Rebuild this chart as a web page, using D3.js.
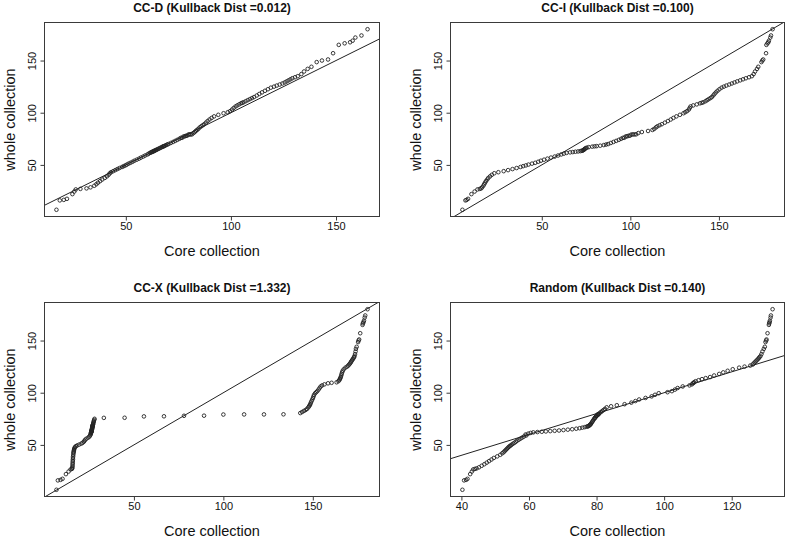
<!DOCTYPE html>
<html>
<head>
<meta charset="utf-8">
<script src="https://cdn.jsdelivr.net/npm/d3@7"></script>
<style>
html, body { margin: 0; padding: 0; background: #fff; }
svg { display: block; }
text { font-family: "Liberation Sans", Arial, sans-serif; fill: #111; }
</style>
</head>
<body>
<svg id="chart" width="787" height="541"></svg>
<script>
// Whole collection quantiles (shared y values of every panel)
const wholeQ = [
  7, 16, 16.5, 17.5, 22, 24.5, 26.5, 27, 27.5, 28.5,
  30, 31.5, 33, 34.5, 36, 37.5, 39, 40.5, 42, 43, 44, 45, 46, 47, 48, 48.8, 49.5, 50.3, 51.2, 52, 53, 54, 55, 56, 57, 58, 59,
  60, 60.8, 61.5, 62, 62.3, 62.6, 62.9, 63.2, 63.5, 63.8, 64.2, 64.6, 65, 65.5, 66, 66.5, 67, 67.5, 67.8, 68, 68.4, 69, 69.5, 70, 71, 72, 73, 74, 75,
  75.9, 76, 77.3, 77.4, 77.9, 78, 79.1, 79.2, 79.2, 79.3,
  80.5, 81.5, 82.5, 83.5, 84.5, 86, 87, 88, 89, 90.5, 92, 93.5, 95, 96.5, 98, 99.5, 100.5, 101.5, 103, 104.5, 106, 107, 108, 109, 109.5, 110,
  111, 112, 113, 114, 115, 116.5, 118, 119.5, 121, 122.5, 124, 125, 126, 127, 128, 129, 130, 131, 132, 133, 134, 135,
  137, 139.5, 142, 144, 148.5, 150, 151, 157, 165, 166.5, 167.5, 169, 172, 174, 180
];

// Core collection quantiles, one array per method
const coreD = [
  17, 18.6, 20.5, 22, 24.6, 25.5, 26.2, 28.4, 31.3, 33.2,
  35, 36, 36.8, 37.8, 38.8, 40, 41, 41.8, 42.4, 43, 44, 45, 46, 47, 48.2, 49, 49.8, 50.5, 51.3, 52.2, 53.2, 54.1, 55.2, 56.3, 57.2, 58.3, 59.2,
  60.3, 60.9, 61.5, 62, 62.3, 62.7, 63, 63.3, 63.6, 63.9, 64.3, 64.7, 65.1, 65.6, 66.1, 66.6, 67.1, 67.6, 67.9, 68.2, 68.6, 69.2, 69.7, 70.3, 71.4, 72.5, 73.5, 74.5, 75.5,
  76.2, 76.8, 77.5, 78.1, 78.6, 79.2, 79.8, 80.3, 80.9, 81.5,
  82.2, 82.8, 83.3, 83.9, 84.5, 85.2, 85.9, 86.6, 87.3, 88.1, 88.9, 89.8, 90.8, 92, 94, 96.5, 98.5, 99.6, 100.5, 101.3, 102.2, 103, 103.9, 104.8, 105.4, 106,
  107, 108, 109, 110, 111, 112.3, 113.5, 114.8, 116.2, 117.6, 119, 120.5, 121.8, 123.2, 124.5, 125.6, 126.5, 127.4, 128.3, 129.2, 130.5, 131.8,
  133.5, 134.8, 136.5, 138.3, 140.8, 143.3, 146.2, 148.6, 151.3, 154.1, 156.7, 157.9, 159.2, 162.1, 165
];
const coreI = [
  5.2, 6.9, 7.6, 8.4, 10.3, 12.1, 13.7, 15, 15.8, 16.3,
  17, 17.5, 18, 18.5, 19.2, 19.8, 20.8, 21.8, 23.2, 25.5, 28.5, 31, 33.5, 35.8, 38, 39.5, 41, 42.5, 44.5, 46.3, 48, 49.5, 51.3, 53.2, 55.2, 57.3, 59.2,
  61, 62.5, 64, 66, 67.5, 69, 70.5, 71.8, 72.6, 73.1, 73.5, 73.8, 74.1, 74.4, 74.8, 75.4, 76.5, 78.5, 79.8, 81, 83, 85, 86.3, 87.5, 89, 90.5, 92, 93.5, 94.8,
  95.8, 96.6, 97.4, 98.2, 99, 99.8, 100.6, 101.5, 102.4, 103.3,
  104.5, 106.5, 110, 112.5, 113.5, 114.5, 115.3, 116.5, 117.8, 119.5, 121.2, 122.8, 124.3, 126, 128, 130, 131, 132, 133, 133.5, 134, 135.5, 137.5, 139.3, 140.3, 141.2,
  142.4, 143.3, 144.2, 145.2, 146, 146.8, 147.5, 148.3, 149.2, 150.3, 151.5, 152.8, 154.2, 155.8, 157.3, 158.8, 160.3, 162, 163.6, 165.2, 167, 168.6,
  169.6, 170.4, 171.5, 172.2, 174, 174.5, 175, 176.6, 176.8, 177.4, 177.9, 178.2, 179, 179.4, 180.3
];
const coreX = [
  6.7, 7.5, 9, 10.1, 12, 13.5, 14.6, 15.3, 15.5, 15.6,
  15.7, 15.75, 15.8, 15.85, 15.9, 15.95, 16, 16.1, 16.2, 16.3, 16.4, 16.5, 16.6, 16.8, 17.1, 17.6, 18.3, 19.4, 20.6, 21.3, 22, 22.4, 22.8, 23.5, 24.5, 25.1, 25.5,
  25.8, 25.9, 26, 26.1, 26.15, 26.2, 26.25, 26.3, 26.35, 26.4, 26.45, 26.5, 26.55, 26.6, 26.65, 26.7, 26.75, 26.8, 26.85, 26.9, 26.95, 27, 27.1, 27.2, 27.3, 27.5, 27.6, 27.8, 28,
  33.2, 44.8, 55.6, 66.8, 78, 89.2, 100, 111.6, 122.7, 133.6,
  143, 144, 145, 146, 146.8, 147.5, 147.9, 148.3, 148.6, 148.9, 149.3, 149.7, 150.1, 150.4, 150.7, 151.3, 151.9, 152.5, 153.2, 153.8, 154.4, 155.2, 156.5, 158.5, 160.5, 163.3,
  164.3, 164.8, 165.1, 165.4, 165.6, 165.9, 166.1, 166.4, 166.7, 167.3, 168.2, 169.2, 169.8, 170.3, 170.8, 171.2, 171.5, 171.9, 172.3, 172.7, 173, 173.3,
  173.6, 173.9, 174.1, 174.5, 175.3, 175.6, 175.9, 176.5, 177.8, 178, 178.3, 178.6, 179, 179.3, 180.6
];
const coreR = [
  40.3, 40.8, 41.4, 41.8, 42.6, 43.1, 43.5, 44, 44.5, 45.2,
  46, 46.8, 47.5, 48.2, 48.9, 49.6, 50.6, 51.5, 52.1, 52.5, 52.8, 53.1, 53.4, 53.7, 54, 54.3, 54.6, 54.9, 55.3, 55.7, 56.1, 56.5, 57, 57.5, 58, 58.5, 59.2,
  59, 59.8, 60.5, 61.3, 62.5, 63.8, 65, 66.3, 67.6, 68.9, 70.2, 71.5, 72.8, 74, 75, 75.8, 76.5, 77.1, 77.4, 77.6, 77.8, 78, 78.15, 78.3, 78.5, 78.7, 78.9, 79.1, 79.3,
  79.5, 79.6, 79.8, 79.9, 80, 80.1, 80.3, 80.4, 80.5, 80.6,
  80.9, 81.3, 81.7, 82.1, 82.5, 83, 84.3, 86, 88.3, 90.3, 91.5, 92.6, 94.5, 96.3, 97.3, 98.4, 101, 102.3, 103.2, 104, 105.5, 107.5, 108.2, 108.5, 108.7, 108.9,
  109.3, 110.2, 111.2, 112.3, 113.6, 114.8, 116.3, 117.5, 118.8, 120.3, 122.2, 123.8, 125.5, 126.2, 126.5, 126.8, 127.1, 127.4, 127.7, 128, 128.2, 128.5,
  128.8, 129.1, 129.5, 129.8, 130, 130.2, 130.3, 130.6, 131, 131.1, 131.2, 131.3, 131.5, 131.6, 132.1
];

const panelTitles = ["CC-D (Kullback Dist =0.012)", "CC-I (Kullback Dist =0.100)",
                     "CC-X (Kullback Dist =1.332)", "Random (Kullback Dist =0.140)"];
const panelCores = [coreD, coreI, coreX, coreR];
const xTicks = [[50, 100, 150], [50, 100, 150], [50, 100, 150], [40, 60, 80, 100, 120]];
const yTicks = [50, 100, 150];
const xLabel = "Core collection";
const yLabel = "whole collection";

// Layout (plot regions)
const regions = [
  {l: 44, r: 380, t: 22, b: 217},
  {l: 450, r: 785, t: 22, b: 217},
  {l: 44, r: 380, t: 302, b: 497},
  {l: 450, r: 785, t: 302, b: 497}
];

const svg = d3.select("#chart");

function rDomain(vals) {
  const [a, b] = d3.extent(vals);
  const pad = (b - a) * 0.04;
  return [a - pad, b + pad];
}

panelCores.forEach((core, i) => {
  const R = regions[i];
  const x = d3.scaleLinear().domain(rDomain(core)).range([R.l, R.r]);
  const y = d3.scaleLinear().domain(rDomain(wholeQ)).range([R.b, R.t]);
  const g = svg.append("g");

  const clipId = "clip" + i;
  g.append("clipPath").attr("id", clipId).append("rect")
    .attr("x", R.l).attr("y", R.t).attr("width", R.r - R.l).attr("height", R.b - R.t);

  // reference line y = x
  const [x0, x1] = x.domain();
  g.append("line")
    .attr("clip-path", `url(#${clipId})`)
    .attr("x1", x(x0)).attr("y1", y(x0))
    .attr("x2", x(x1)).attr("y2", y(x1))
    .attr("stroke", "#222").attr("stroke-width", 1);

  // points
  g.append("g").selectAll("circle")
    .data(core.map((c, k) => [c, wholeQ[k]]))
    .join("circle")
    .attr("cx", d => x(d[0]))
    .attr("cy", d => y(d[1]))
    .attr("r", 1.8)
    .attr("fill", "none")
    .attr("stroke", "#222")
    .attr("stroke-width", 0.9);

  // box
  g.append("rect")
    .attr("x", R.l + 0.5).attr("y", R.t + 0.5)
    .attr("width", R.r - R.l - 1).attr("height", R.b - R.t - 1)
    .attr("fill", "none").attr("stroke", "#3a3a3a").attr("stroke-width", 1);

  // x axis
  const xa = g.append("g").attr("transform", `translate(0,${R.b - 0.5})`)
    .call(d3.axisBottom(x).tickValues(xTicks[i]).tickSize(4).tickPadding(2).tickFormat(d3.format("d")));
  xa.select(".domain").remove();
  xa.selectAll("line").attr("stroke", "#3a3a3a");
  xa.selectAll("text").attr("font-size", 11).attr("font-family", "Liberation Sans, Arial, sans-serif").attr("fill", "#111");

  // y axis
  const ya = g.append("g").attr("transform", `translate(${R.l + 0.5},0)`)
    .call(d3.axisLeft(y).tickValues(yTicks).tickSize(4).tickFormat(d3.format("d")));
  ya.select(".domain").remove();
  ya.selectAll("line").attr("stroke", "#3a3a3a");
  ya.selectAll("text")
    .attr("font-size", 11).attr("font-family", "Liberation Sans, Arial, sans-serif").attr("fill", "#111")
    .attr("x", null).attr("dy", null)
    .attr("text-anchor", "middle")
    .attr("transform", "translate(-9,0) rotate(-90)");

  // title
  g.append("text")
    .attr("x", (R.l + R.r) / 2).attr("y", R.t - 10)
    .attr("text-anchor", "middle")
    .attr("font-size", 12).attr("font-weight", "bold")
    .text(panelTitles[i]);

  // x label
  g.append("text")
    .attr("x", (R.l + R.r) / 2).attr("y", R.b + 38.5)
    .attr("text-anchor", "middle")
    .attr("font-size", 14.5)
    .text(xLabel);

  // y label
  g.append("text")
    .attr("transform", `translate(${R.l - 29.5},${(R.t + R.b) / 2}) rotate(-90)`)
    .attr("text-anchor", "middle")
    .attr("font-size", 14.5)
    .text(yLabel);
});
</script>
</body>
</html>
